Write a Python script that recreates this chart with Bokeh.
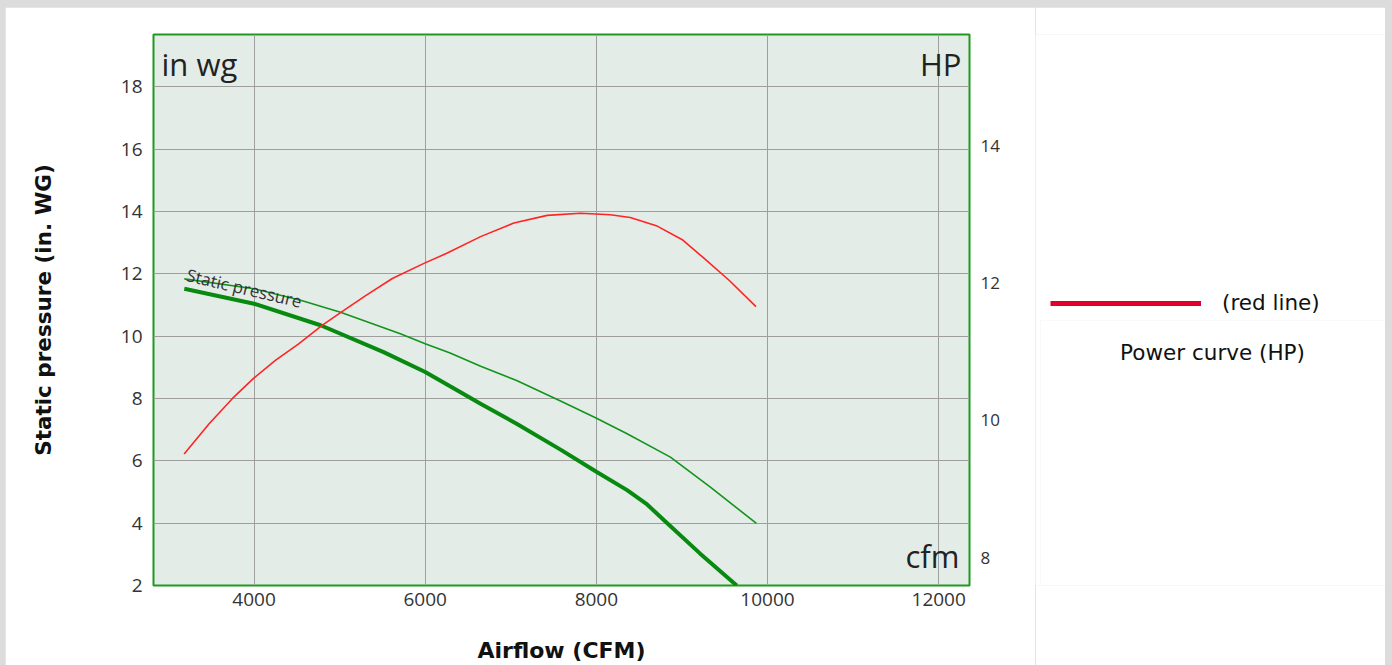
from bokeh.plotting import figure
from bokeh.layouts import row
from bokeh.models import (Range1d, LinearAxis, FixedTicker, Label, Legend, LegendItem,
                          GlobalInlineStyleSheet, BoxAnnotation)
from bokeh.embed import file_html
from bokeh.resources import INLINE

# ---------------- data ----------------
airflow_ticks = [4000, 6000, 8000, 10000, 12000]
pressure_ticks = [2, 4, 6, 8, 10, 12, 14, 16, 18]
power_ticks = [8, 10, 12, 14]

# power curve (HP, right axis)
power_cfm = [3183, 3475, 3748, 4000, 4253, 4525, 4799, 5032, 5304, 5616, 5985, 6258, 6647,
             7036, 7425, 7814, 8164, 8396, 8700, 9010, 9243, 9554, 9865]
power_hp = [9.51, 9.95, 10.32, 10.62, 10.88, 11.12, 11.39, 11.59, 11.82, 12.07, 12.29, 12.44,
            12.68, 12.88, 12.99, 13.02, 13.00, 12.96, 12.84, 12.63, 12.38, 12.04, 11.66]

# static pressure curve (thick)
sp_cfm = [3185, 4000, 4777, 5514, 6000, 6291, 6641, 7068, 7581, 8000, 8359, 8593, 8800,
          9210, 9640]
sp_inwg = [11.52, 11.04, 10.35, 9.49, 8.85, 8.39, 7.84, 7.19, 6.36, 5.65, 5.06, 4.60, 4.07,
           3.03, 2.00]

# second pressure curve (thin)
sp2_cfm = [3185, 4000, 4544, 5010, 5709, 6000, 6291, 6641, 7068, 7581, 7990, 8359, 8865,
           9332, 9870]
sp2_inwg = [11.84, 11.52, 11.15, 10.77, 10.08, 9.76, 9.46, 9.04, 8.58, 7.92, 7.38, 6.87, 6.12,
            5.16, 3.99]

curve_label = "Static pressure"
curve_label_cfm = 3215
curve_label_inwg = 11.98

legend_label = "(red line)"
panel_caption = "Power curve (HP)"

X_START, X_END = 2825, 12360
Y_START, Y_END = 2, 19.68
HP_START, HP_END = 7.592, 15.628

MAIN_W, SIDE_W, H = 1030, 350, 658
SIDE_FRAME_H = 551

# ---------------- main figure ----------------
p = figure(width=MAIN_W, height=H, output_backend="svg", toolbar_location=None,
           x_range=Range1d(X_START, X_END), y_range=Range1d(Y_START, Y_END),
           min_border_left=148, min_border_right=66, min_border_top=27, min_border_bottom=80,
           background_fill_color="#e4ece8", border_fill_color="white",
           outline_line_color="#1f9a1f", outline_line_width=2)
p.stylesheets = [GlobalInlineStyleSheet(
    css="html, body { background-color: #dcdcdc !important; } "
        "body { padding: 7px 0 0 5px !important; }")]
p.extra_y_ranges = {"hp": Range1d(HP_START, HP_END)}

tick_font = "Open Sans"
p.xaxis.ticker = FixedTicker(ticks=airflow_ticks)
p.yaxis.ticker = FixedTicker(ticks=pressure_ticks)
p.xaxis.axis_label = "Airflow (CFM)"
p.yaxis.axis_label = "Static pressure (in. WG)"

for ax in (p.xaxis[0], p.yaxis[0]):
    ax.axis_line_color = None
    ax.major_tick_line_color = None
    ax.minor_tick_line_color = None
    ax.major_label_text_font = tick_font
    ax.major_label_text_font_size = "19px"
    ax.major_label_text_color = "#333333"
    ax.axis_label_text_font = "DejaVu Sans"
    ax.axis_label_text_font_style = "bold"
    ax.axis_label_text_color = "#111111"
p.xaxis.axis_label_text_font_size = "22px"
p.yaxis.axis_label_text_font_size = "21.5px"
p.xaxis.major_label_standoff = 1
p.yaxis.major_label_standoff = 5
p.xaxis.axis_label_standoff = 29
p.yaxis.axis_label_standoff = 62

right = LinearAxis(y_range_name="hp", ticker=FixedTicker(ticks=power_ticks))
right.axis_line_color = None
right.major_tick_line_color = None
right.minor_tick_line_color = None
right.major_label_text_font = tick_font
right.major_label_text_font_size = "17px"
right.major_label_text_color = "#333333"
right.major_label_standoff = 5
p.add_layout(right, "right")

p.xgrid.grid_line_color = "#9e9e9e"
p.ygrid.grid_line_color = "#9e9e9e"
p.xgrid.grid_line_width = 1
p.ygrid.grid_line_width = 1

# curves
p.line(sp2_cfm, sp2_inwg, line_color="#12941c", line_width=1.6)
p.line(sp_cfm, sp_inwg, line_color="#078a0f", line_width=4)
p.line(power_cfm, power_hp, y_range_name="hp", line_color="#ff2424", line_width=1.6)

# in-plot texts
p.add_layout(Label(x=curve_label_cfm, y=curve_label_inwg, text=curve_label, angle=-13.3,
                   angle_units="deg", text_font="Open Sans", text_font_size="17px",
                   text_color="#333333", text_baseline="alphabetic"))
p.add_layout(Label(x=X_START, y=Y_END, x_offset=8, y_offset=-29, text="in wg",
                   text_font="Open Sans", text_font_size="31px", text_color="#222222",
                   text_baseline="alphabetic", text_align="left"))
p.add_layout(Label(x=X_END, y=Y_END, x_offset=-8, y_offset=-29, text="HP",
                   text_font="Open Sans", text_font_size="31px", text_color="#222222",
                   text_baseline="alphabetic", text_align="right"))
p.add_layout(Label(x=X_END, y=Y_START, x_offset=-10, y_offset=30, text="cfm",
                   text_font="Open Sans", text_font_size="31px", text_color="#222222",
                   text_baseline="alphabetic", text_align="right"))

# ---------------- side panel (legend) ----------------
# frame of this panel is aligned with the main frame; ranges are in pixels from its bottom-left
s = figure(width=SIDE_W, height=H, output_backend="svg", toolbar_location=None,
           x_range=Range1d(0, SIDE_W), y_range=Range1d(0, SIDE_FRAME_H),
           x_axis_type=None, y_axis_type=None, min_border=0,
           outline_line_color=None, border_fill_color="white", background_fill_color="white")
s.grid.visible = False

s.add_layout(BoxAnnotation(left=5, right=SIDE_W + 5, top=265, bottom=-47, fill_alpha=0,
                           line_color="#ececec", line_width=1))

# the power-curve data itself lies far outside this panel's ranges, only its legend swatch shows
legend_sample = s.line(power_cfm, power_hp, line_color="#e0002b", line_width=5)
legend = Legend(items=[LegendItem(label=legend_label, renderers=[legend_sample])],
                location=(15, 270), padding=0, margin=0, spacing=0,
                glyph_width=151, glyph_height=24, label_height=24, label_standoff=21,
                label_text_font="DejaVu Sans", label_text_font_size="21.5px",
                label_text_color="#111111",
                border_line_color=None, background_fill_alpha=0)
s.add_layout(legend)

s.add_layout(Label(x=177, y=233, text=panel_caption,
                   text_font="DejaVu Sans", text_font_size="21.5px", text_color="#111111",
                   text_align="center", text_baseline="alphabetic"))

layout = row(p, s)
open("out.html", "w").write(file_html(layout, INLINE))
